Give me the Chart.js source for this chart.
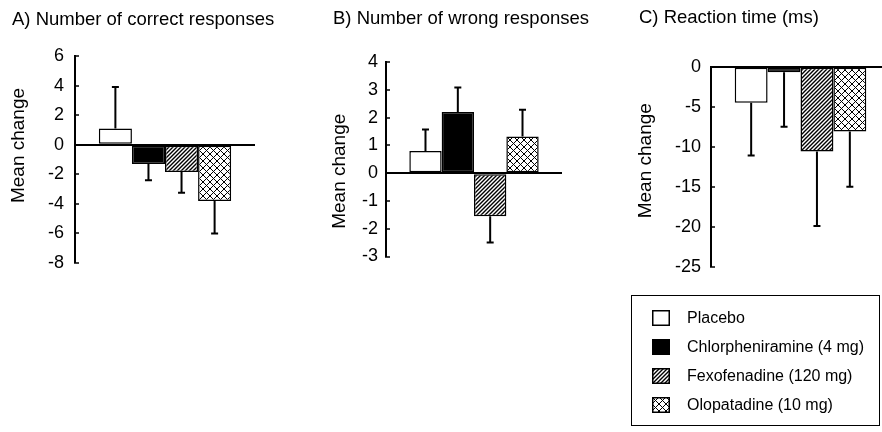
<!DOCTYPE html>
<html>
<head>
<meta charset="utf-8">
<title>Mean change by treatment</title>
<script src="https://cdn.jsdelivr.net/npm/chart.js@4.4.1/dist/chart.umd.min.js"></script>
<style>
  html, body { margin: 0; padding: 0; background: #fff; width: 882px; height: 432px; overflow: hidden; }
  body { position: relative; font-family: 'Liberation Sans', Arial, sans-serif; }
  canvas { position: absolute; top: 0; }
  #legend { position: absolute; left: 631px; top: 295px; width: 249px; height: 131px; box-sizing: border-box; border: 1.5px solid #000; background: #fff; }
  #legend .item { position: absolute; left: 20px; height: 20px; display: flex; align-items: center; font-size: 16px; color: #000; white-space: nowrap; }
  #legend .item canvas { position: static; margin-right: 17px; }
</style>
</head>
<body>
<canvas id="chart-correct" width="300" height="300" style="left:0px"></canvas>
<canvas id="chart-wrong" width="300" height="300" style="left:300px"></canvas>
<canvas id="chart-reaction" width="290" height="300" style="left:600px"></canvas>
<div id="legend"></div>
<script>
(function () {
const FONT = "'Liberation Sans', Arial, sans-serif";

// treatments (one bar each, same order in every panel)
const drugs = ['Placebo', 'Chlorpheniramine (4 mg)', 'Fexofenadine (120 mg)', 'Olopatadine (10 mg)'];

// A) number of correct responses
const correctMeans = [1.1, -1.3, -1.85, -3.8];
const correctErrors = [2.8, 1.1, 1.4, 2.2];
const correctAxis = [-8, 6, 2]; // min, max, step

// B) number of wrong responses
const wrongMeans = [0.8, 2.2, -1.55, 1.32];
const wrongErrors = [0.77, 0.88, 0.95, 0.96];
const wrongAxis = [-3, 4, 1];

// C) reaction time (ms)
const reactionMeans = [-4.5, -0.7, -10.6, -8.1];
const reactionErrors = [6.6, 6.8, 9.3, 6.9];
const reactionAxis = [-25, 0, 5];

// fill patterns: plain white, solid black, "/" hatch, diagonal cross-hatch
function makePattern(kind) {
    const s = kind === 'hatch' ? 4 : 7;
    const tile = document.createElement('canvas');
    tile.width = s;
    tile.height = s;
    const g = tile.getContext('2d');
    g.fillStyle = '#fff';
    g.fillRect(0, 0, s, s);
    g.strokeStyle = '#000';
    g.lineWidth = kind === 'hatch' ? 1.4 : 1;
    g.beginPath();
    g.moveTo(-1, 1); g.lineTo(1, -1);
    g.moveTo(0, s); g.lineTo(s, 0);
    g.moveTo(s - 1, s + 1); g.lineTo(s + 1, s - 1);
    if (kind === 'cross') {
        g.moveTo(0, 0); g.lineTo(s, s);
        g.moveTo(s - 1, -1); g.lineTo(s + 1, 1);
        g.moveTo(-1, s - 1); g.lineTo(1, s + 1);
    }
    g.stroke();
    return g.createPattern(tile, 'repeat');
}
const fills = ['#fff', '#000', makePattern('hatch'), makePattern('cross')];

// one-sided error bars, drawn away from zero
const errorBars = {
    id: 'errorBars',
    afterDatasetsDraw(chart) {
        const ctx = chart.ctx;
        const y = chart.scales.y;
        ctx.save();
        ctx.strokeStyle = '#000';
        ctx.lineWidth = 2;
        chart.data.datasets.forEach((ds, i) => {
            const bar = chart.getDatasetMeta(i).data[0];
            const v = ds.data[0];
            const yEnd = y.getPixelForValue(v + Math.sign(v) * ds.errors[0]);
            ctx.beginPath();
            ctx.moveTo(bar.x, bar.y);
            ctx.lineTo(bar.x, yEnd);
            ctx.moveTo(bar.x - 3.5, yEnd);
            ctx.lineTo(bar.x + 3.5, yEnd);
            ctx.stroke();
        });
        ctx.restore();
    }
};

// panel heading (left aligned, wider than the plot) and rotated y title
const labels = {
    id: 'labels',
    afterDraw(chart, args, opts) {
        const ctx = chart.ctx;
        const area = chart.chartArea;
        ctx.save();
        ctx.fillStyle = '#000';
        ctx.textBaseline = 'middle';
        ctx.font = '18.5px ' + FONT;
        ctx.textAlign = 'left';
        ctx.fillText(opts.title, chart.scales.y.left, opts.titleY);
        ctx.translate(chart.scales.y.left + 6.75, (area.top + area.bottom) / 2 + opts.yShift);
        ctx.rotate(-Math.PI / 2);
        ctx.font = '19px ' + FONT;
        ctx.textAlign = 'center';
        ctx.fillText(opts.yText, 0, 0);
        ctx.restore();
    }
};

function panel(canvasId, title, means, errors, axis, box) {
    const datasets = drugs.map((name, i) => ({
        label: name,
        data: [means[i]],
        errors: [errors[i]],
        backgroundColor: fills[i],
        borderColor: '#000',
        borderWidth: 1.5,
        borderSkipped: false,
        barPercentage: 1,
        categoryPercentage: 0.735
    }));

    const config = {
        type: 'bar',
        data: { labels: [''], datasets: datasets },
        options: {
            responsive: false,
            animation: false,
            layout: { padding: { left: box.left, right: box.right, top: box.top, bottom: box.bottom } },
            plugins: {
                legend: { display: false },
                tooltip: { enabled: false },
                labels: { title: title, titleY: box.titleY, yText: 'Mean change', yShift: box.yShift }
            },
            scales: {
                x: { display: false },
                y: {
                    min: axis[0],
                    max: axis[1],
                    ticks: {
                        stepSize: axis[2],
                        color: '#000',
                        font: { family: FONT, size: 18 },
                        padding: box.labelGap + 4
                    },
                    grid: {
                        color: c => (c.tick && c.tick.value === 0) ? '#000' : 'rgba(0,0,0,0)',
                        lineWidth: c => (c.tick && c.tick.value === 0) ? 2 : 0,
                        tickLength: -4,
                        tickColor: '#000',
                        tickWidth: 1.5
                    },
                    border: { color: '#000', width: 2 },
                    afterFit: scale => { scale.width = box.axisWidth; }
                }
            }
        },
        plugins: [errorBars, labels]
    };
    new Chart(document.getElementById(canvasId), config);
}

panel('chart-correct', 'A) Number of correct responses', correctMeans, correctErrors, correctAxis,
    { left: 12, right: 45, top: 56, bottom: 37, titleY: 20.3, axisWidth: 63, labelGap: 11, yShift: -14 });
panel('chart-wrong', 'B) Number of wrong responses', wrongMeans, wrongErrors, wrongAxis,
    { left: 33, right: 38, top: 62, bottom: 43.5, titleY: 19.2, axisWidth: 53, labelGap: 8, yShift: 12 });
panel('chart-reaction', 'C) Reaction time (ms)', reactionMeans, reactionErrors, reactionAxis,
    { left: 39, right: 0, top: 66.7, bottom: 33.3, titleY: 17.5, axisWidth: 72, labelGap: 10, yShift: -6 });

// legend box
const legend = document.getElementById('legend');
drugs.forEach((name, i) => {
    const item = document.createElement('div');
    item.className = 'item';
    item.style.top = (12 + i * 29) + 'px';
    const sw = document.createElement('canvas');
    sw.width = 18;
    sw.height = 16;
    const g = sw.getContext('2d');
    g.fillStyle = fills[i];
    g.fillRect(0, 0, 18, 16);
    g.strokeStyle = '#000';
    g.lineWidth = 1.5;
    g.strokeRect(0.75, 0.75, 16.5, 14.5);
    const label = document.createElement('span');
    label.textContent = name;
    item.appendChild(sw);
    item.appendChild(label);
    legend.appendChild(item);
});
})();
</script>
</body>
</html>
